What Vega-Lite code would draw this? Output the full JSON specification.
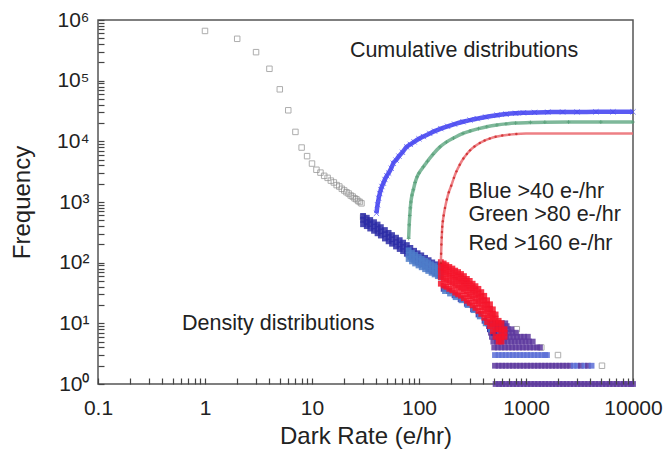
{
  "$schema": "https://vega.github.io/schema/vega-lite/v6.json",
  "width": 535,
  "height": 364,
  "autosize": "none",
  "padding": {"left": 98, "top": 20, "right": 37, "bottom": 74},
  "background": "white",
  "config": {
    "view": {"stroke": "#555", "strokeWidth": 1.5},
    "axis": {
      "grid": false,
      "labelFont": "Liberation Sans",
      "labelFontSize": 21,
      "labelColor": "#222",
      "labelOverlap": false,
      "labelFlush": false,
      "titleFont": "Liberation Sans",
      "titleFontSize": 24,
      "titleFontWeight": "normal",
      "titleColor": "#222"
    }
  },
  "resolve": {"scale": {"color": "independent", "strokeWidth": "independent", "opacity": "independent"}},
  "datasets": {
    "gray": [
      {"x": 1, "y": 660000}, {"x": 2, "y": 490000}, {"x": 3, "y": 295000}, {"x": 4, "y": 157000},
      {"x": 5, "y": 72000}, {"x": 6, "y": 32500}, {"x": 7, "y": 14300}, {"x": 8, "y": 7900},
      {"x": 9, "y": 5700}, {"x": 10, "y": 4300}, {"x": 11, "y": 3400}, {"x": 12, "y": 3050},
      {"x": 13, "y": 2700}, {"x": 14, "y": 2500}, {"x": 15, "y": 2250}, {"x": 16, "y": 2100},
      {"x": 17, "y": 1900}, {"x": 18, "y": 1800}, {"x": 19, "y": 1650}, {"x": 20, "y": 1550},
      {"x": 21, "y": 1450}, {"x": 22, "y": 1380}, {"x": 23, "y": 1280}, {"x": 24, "y": 1230},
      {"x": 25, "y": 1150}, {"x": 26, "y": 1110}, {"x": 27, "y": 1040}, {"x": 28, "y": 1000},
      {"x": 29, "y": 950}, {"x": 30, "y": 560}, {"x": 31, "y": 530}, {"x": 32, "y": 500},
      {"x": 33, "y": 470}, {"x": 34, "y": 450},
      {"x": 820, "y": 8}, {"x": 1390, "y": 4}, {"x": 1990, "y": 3}, {"x": 5130, "y": 2}
    ],
    "dens": [
      {"x": 440, "y": 10, "s": "dP"}, {"x": 475, "y": 10, "s": "dP"}, {"x": 510, "y": 10, "s": "dP"}, {"x": 550, "y": 10, "s": "dP"}, {"x": 595, "y": 10, "s": "dP"}, {"x": 640, "y": 10, "s": "dP"},
      {"x": 450, "y": 9, "s": "dP"}, {"x": 485, "y": 9, "s": "dP"}, {"x": 525, "y": 9, "s": "dP"}, {"x": 565, "y": 9, "s": "dP"}, {"x": 610, "y": 9, "s": "dP"}, {"x": 660, "y": 9, "s": "dP"},
      {"x": 460, "y": 8, "s": "dP"}, {"x": 497, "y": 8, "s": "dP"}, {"x": 537, "y": 8, "s": "dP"}, {"x": 580, "y": 8, "s": "dP"}, {"x": 626, "y": 8, "s": "dP"}, {"x": 676, "y": 8, "s": "dP"}, {"x": 730, "y": 8, "s": "dP"},
      {"x": 470, "y": 7, "s": "dP"}, {"x": 508, "y": 7, "s": "dP"}, {"x": 548, "y": 7, "s": "dP"}, {"x": 592, "y": 7, "s": "dP"}, {"x": 640, "y": 7, "s": "dP"}, {"x": 690, "y": 7, "s": "dP"}, {"x": 745, "y": 7, "s": "dP"}, {"x": 805, "y": 7, "s": "dP"},
      {"x": 480, "y": 6, "s": "dP"}, {"x": 518, "y": 6, "s": "dP"}, {"x": 560, "y": 6, "s": "dP"}, {"x": 605, "y": 6, "s": "dP"}, {"x": 653, "y": 6, "s": "dP"}, {"x": 705, "y": 6, "s": "dP"}, {"x": 762, "y": 6, "s": "dP"}, {"x": 823, "y": 6, "s": "dP"}, {"x": 889, "y": 6, "s": "dP"}, {"x": 960, "y": 6, "s": "dP"}, {"x": 1040, "y": 6, "s": "dP"},
      {"x": 495, "y": 5, "s": "dP"}, {"x": 535, "y": 5, "s": "dP"}, {"x": 578, "y": 5, "s": "dP"}, {"x": 624, "y": 5, "s": "dP"}, {"x": 674, "y": 5, "s": "dP"}, {"x": 728, "y": 5, "s": "dP"}, {"x": 786, "y": 5, "s": "dP"}, {"x": 849, "y": 5, "s": "dP"}, {"x": 917, "y": 5, "s": "dP"}, {"x": 990, "y": 5, "s": "dP"}, {"x": 1070, "y": 5, "s": "dP"}, {"x": 1155, "y": 5, "s": "dP"},
      {"x": 505, "y": 4, "s": "dP"}, {"x": 545, "y": 4, "s": "dP"}, {"x": 589, "y": 4, "s": "dP"}, {"x": 636, "y": 4, "s": "dP"}, {"x": 687, "y": 4, "s": "dP"}, {"x": 742, "y": 4, "s": "dP"}, {"x": 801, "y": 4, "s": "dP"}, {"x": 865, "y": 4, "s": "dP"}, {"x": 934, "y": 4, "s": "dP"}, {"x": 1009, "y": 4, "s": "dP"}, {"x": 1090, "y": 4, "s": "dP"}, {"x": 1177, "y": 4, "s": "dP"}, {"x": 1271, "y": 4, "s": "dP"}, {"x": 1350, "y": 4, "s": "dP"},
      {"x": 513, "y": 3, "s": "dL"}, {"x": 554, "y": 3, "s": "dL"}, {"x": 598, "y": 3, "s": "dL"}, {"x": 646, "y": 3, "s": "dL"}, {"x": 698, "y": 3, "s": "dL"}, {"x": 754, "y": 3, "s": "dL"}, {"x": 814, "y": 3, "s": "dL"}, {"x": 879, "y": 3, "s": "dL"}, {"x": 949, "y": 3, "s": "dL"}, {"x": 1025, "y": 3, "s": "dL"}, {"x": 1107, "y": 3, "s": "dL"}, {"x": 1196, "y": 3, "s": "dL"}, {"x": 1292, "y": 3, "s": "dL"}, {"x": 1395, "y": 3, "s": "dL"}, {"x": 1507, "y": 3, "s": "dL"}, {"x": 1570, "y": 3, "s": "dL"},
      {"x": 513, "y": 2, "s": "dP"}, {"x": 554, "y": 2, "s": "dP"}, {"x": 598, "y": 2, "s": "dP"}, {"x": 646, "y": 2, "s": "dP"}, {"x": 698, "y": 2, "s": "dP"}, {"x": 754, "y": 2, "s": "dP"}, {"x": 814, "y": 2, "s": "dP"}, {"x": 879, "y": 2, "s": "dP"}, {"x": 949, "y": 2, "s": "dP"}, {"x": 1025, "y": 2, "s": "dP"}, {"x": 1107, "y": 2, "s": "dP"}, {"x": 1196, "y": 2, "s": "dP"}, {"x": 1292, "y": 2, "s": "dP"}, {"x": 1395, "y": 2, "s": "dP"}, {"x": 1507, "y": 2, "s": "dP"}, {"x": 1627, "y": 2, "s": "dP"}, {"x": 1757, "y": 2, "s": "dP"}, {"x": 1898, "y": 2, "s": "dP"}, {"x": 2050, "y": 2, "s": "dP"}, {"x": 2214, "y": 2, "s": "dP"}, {"x": 2391, "y": 2, "s": "dP"}, {"x": 2582, "y": 2, "s": "dP"}, {"x": 2789, "y": 2, "s": "dL"}, {"x": 3012, "y": 2, "s": "dL"}, {"x": 3253, "y": 2, "s": "dP"}, {"x": 3513, "y": 2, "s": "dL"}, {"x": 3794, "y": 2, "s": "dP"}, {"x": 4100, "y": 2, "s": "dL"},
      {"x": 520, "y": 1, "s": "dP"}, {"x": 560, "y": 1, "s": "dP"}, {"x": 600, "y": 1, "s": "dP"}, {"x": 648, "y": 1, "s": "dP"}, {"x": 700, "y": 1, "s": "dP"}, {"x": 756, "y": 1, "s": "dP"}, {"x": 816, "y": 1, "s": "dP"}, {"x": 882, "y": 1, "s": "dP"}, {"x": 952, "y": 1, "s": "dP"}, {"x": 1028, "y": 1, "s": "dP"}, {"x": 1111, "y": 1, "s": "dP"}, {"x": 1200, "y": 1, "s": "dP"}, {"x": 1296, "y": 1, "s": "dP"}, {"x": 1399, "y": 1, "s": "dP"}, {"x": 1511, "y": 1, "s": "dP"}, {"x": 1632, "y": 1, "s": "dP"}, {"x": 1763, "y": 1, "s": "dP"}, {"x": 1904, "y": 1, "s": "dP"}, {"x": 2056, "y": 1, "s": "dP"}, {"x": 2220, "y": 1, "s": "dP"}, {"x": 2398, "y": 1, "s": "dP"}, {"x": 2590, "y": 1, "s": "dP"}, {"x": 2797, "y": 1, "s": "dP"}, {"x": 3021, "y": 1, "s": "dP"}, {"x": 3263, "y": 1, "s": "dP"}, {"x": 3524, "y": 1, "s": "dP"}, {"x": 3805, "y": 1, "s": "dP"}, {"x": 4110, "y": 1, "s": "dP"}, {"x": 4439, "y": 1, "s": "dP"}, {"x": 4794, "y": 1, "s": "dP"}, {"x": 5177, "y": 1, "s": "dP"}, {"x": 5591, "y": 1, "s": "dP"}, {"x": 6039, "y": 1, "s": "dP"}, {"x": 6522, "y": 1, "s": "dP"}, {"x": 7044, "y": 1, "s": "dP"}, {"x": 7607, "y": 1, "s": "dP"}, {"x": 8216, "y": 1, "s": "dP"}, {"x": 8873, "y": 1, "s": "dP"}, {"x": 9583, "y": 1, "s": "dP"}, {"x": 10000, "y": 1, "s": "dP"},
      {"x": 30, "y": 430, "s": "dB"}, {"x": 30, "y": 510, "s": "dB"}, {"x": 30, "y": 590, "s": "dB"},
      {"x": 32.5, "y": 400, "s": "dB"}, {"x": 32.5, "y": 470, "s": "dB"}, {"x": 32.5, "y": 550, "s": "dB"},
      {"x": 35, "y": 365, "s": "dB"}, {"x": 35, "y": 435, "s": "dB"}, {"x": 35, "y": 505, "s": "dB"},
      {"x": 38, "y": 335, "s": "dB"}, {"x": 38, "y": 395, "s": "dB"}, {"x": 38, "y": 465, "s": "dB"},
      {"x": 41, "y": 305, "s": "dB"}, {"x": 41, "y": 362, "s": "dB"}, {"x": 41, "y": 425, "s": "dB"},
      {"x": 44, "y": 280, "s": "dB"}, {"x": 44, "y": 330, "s": "dB"}, {"x": 44, "y": 385, "s": "dB"},
      {"x": 48, "y": 250, "s": "dB"}, {"x": 48, "y": 295, "s": "dB"}, {"x": 48, "y": 345, "s": "dB"},
      {"x": 52, "y": 225, "s": "dB"}, {"x": 52, "y": 265, "s": "dB"}, {"x": 52, "y": 310, "s": "dB"},
      {"x": 56, "y": 205, "s": "dB"}, {"x": 56, "y": 243, "s": "dB"}, {"x": 56, "y": 285, "s": "dB"},
      {"x": 61, "y": 185, "s": "dB"}, {"x": 61, "y": 219, "s": "dB"}, {"x": 61, "y": 258, "s": "dB"},
      {"x": 66, "y": 168, "s": "dB"}, {"x": 66, "y": 200, "s": "dB"}, {"x": 66, "y": 235, "s": "dB"},
      {"x": 71, "y": 155, "s": "dB"}, {"x": 71, "y": 183, "s": "dB"}, {"x": 71, "y": 214, "s": "dB"},
      {"x": 77, "y": 140, "s": "dB"}, {"x": 77, "y": 166, "s": "dB"}, {"x": 77, "y": 195, "s": "dB"},
      {"x": 83, "y": 125, "s": "dB"}, {"x": 83, "y": 148, "s": "dB"}, {"x": 83, "y": 175, "s": "dB"},
      {"x": 90, "y": 112, "s": "dB"}, {"x": 90, "y": 133, "s": "dB"}, {"x": 90, "y": 157, "s": "dB"},
      {"x": 97, "y": 103, "s": "dB"}, {"x": 97, "y": 122, "s": "dB"}, {"x": 97, "y": 143, "s": "dB"},
      {"x": 105, "y": 94, "s": "dB"}, {"x": 105, "y": 112, "s": "dB"}, {"x": 105, "y": 132, "s": "dB"},
      {"x": 114, "y": 86, "s": "dB"}, {"x": 114, "y": 102, "s": "dB"}, {"x": 114, "y": 120, "s": "dB"},
      {"x": 123, "y": 78, "s": "dB"}, {"x": 123, "y": 93, "s": "dB"}, {"x": 123, "y": 110, "s": "dB"},
      {"x": 133, "y": 72, "s": "dB"}, {"x": 133, "y": 86, "s": "dB"}, {"x": 133, "y": 101, "s": "dB"},
      {"x": 144, "y": 67, "s": "dB"}, {"x": 144, "y": 80, "s": "dB"}, {"x": 144, "y": 94, "s": "dB"},
      {"x": 156, "y": 62, "s": "dB"}, {"x": 156, "y": 74, "s": "dB"}, {"x": 156, "y": 87, "s": "dB"},
      {"x": 170, "y": 37, "s": "dB"}, {"x": 190, "y": 34, "s": "dB"}, {"x": 215, "y": 29, "s": "dB"}, {"x": 245, "y": 25, "s": "dB"}, {"x": 280, "y": 21, "s": "dB"}, {"x": 320, "y": 17, "s": "dB"}, {"x": 360, "y": 14, "s": "dB"}, {"x": 410, "y": 11, "s": "dB"}, {"x": 460, "y": 8, "s": "dB"}, {"x": 500, "y": 7, "s": "dB"},
      {"x": 80, "y": 115, "s": "dG"}, {"x": 80, "y": 135, "s": "dG"}, {"x": 80, "y": 160, "s": "dG"},
      {"x": 86, "y": 105, "s": "dG"}, {"x": 86, "y": 124, "s": "dG"}, {"x": 86, "y": 146, "s": "dG"},
      {"x": 92, "y": 97, "s": "dG"}, {"x": 92, "y": 115, "s": "dG"}, {"x": 92, "y": 135, "s": "dG"},
      {"x": 99, "y": 90, "s": "dG"}, {"x": 99, "y": 106, "s": "dG"}, {"x": 99, "y": 125, "s": "dG"},
      {"x": 106, "y": 84, "s": "dG"}, {"x": 106, "y": 99, "s": "dG"}, {"x": 106, "y": 116, "s": "dG"},
      {"x": 114, "y": 78, "s": "dG"}, {"x": 114, "y": 92, "s": "dG"}, {"x": 114, "y": 108, "s": "dG"},
      {"x": 122, "y": 73, "s": "dG"}, {"x": 122, "y": 86, "s": "dG"}, {"x": 122, "y": 101, "s": "dG"},
      {"x": 131, "y": 68, "s": "dG"}, {"x": 131, "y": 80, "s": "dG"}, {"x": 131, "y": 94, "s": "dG"},
      {"x": 140, "y": 64, "s": "dG"}, {"x": 140, "y": 75, "s": "dG"}, {"x": 140, "y": 88, "s": "dG"},
      {"x": 150, "y": 60, "s": "dG"}, {"x": 150, "y": 71, "s": "dG"}, {"x": 150, "y": 83, "s": "dG"},
      {"x": 160, "y": 57, "s": "dG"}, {"x": 160, "y": 67, "s": "dG"}, {"x": 160, "y": 79, "s": "dG"},
      {"x": 175, "y": 34, "s": "dG"}, {"x": 195, "y": 31, "s": "dG"}, {"x": 220, "y": 27, "s": "dG"}, {"x": 250, "y": 24, "s": "dG"}, {"x": 285, "y": 20, "s": "dG"}, {"x": 325, "y": 16.5, "s": "dG"}, {"x": 370, "y": 13, "s": "dG"}, {"x": 420, "y": 10, "s": "dG"}, {"x": 470, "y": 8, "s": "dG"},
      {"x": 160, "y": 45, "s": "dR"}, {"x": 160, "y": 58, "s": "dR"}, {"x": 160, "y": 72, "s": "dR"}, {"x": 160, "y": 86, "s": "dR"}, {"x": 160, "y": 102, "s": "dR"},
      {"x": 170, "y": 42, "s": "dR"}, {"x": 170, "y": 54, "s": "dR"}, {"x": 170, "y": 68, "s": "dR"}, {"x": 170, "y": 82, "s": "dR"}, {"x": 170, "y": 97, "s": "dR"},
      {"x": 180, "y": 40, "s": "dR"}, {"x": 180, "y": 51, "s": "dR"}, {"x": 180, "y": 64, "s": "dR"}, {"x": 180, "y": 77, "s": "dR"}, {"x": 180, "y": 91, "s": "dR"},
      {"x": 192, "y": 37, "s": "dR"}, {"x": 192, "y": 48, "s": "dR"}, {"x": 192, "y": 60, "s": "dR"}, {"x": 192, "y": 72, "s": "dR"}, {"x": 192, "y": 85, "s": "dR"},
      {"x": 205, "y": 35, "s": "dR"}, {"x": 205, "y": 45, "s": "dR"}, {"x": 205, "y": 56, "s": "dR"}, {"x": 205, "y": 67, "s": "dR"}, {"x": 205, "y": 80, "s": "dR"},
      {"x": 218, "y": 32, "s": "dR"}, {"x": 218, "y": 42, "s": "dR"}, {"x": 218, "y": 52, "s": "dR"}, {"x": 218, "y": 62, "s": "dR"}, {"x": 218, "y": 74, "s": "dR"},
      {"x": 232, "y": 30, "s": "dR"}, {"x": 232, "y": 39, "s": "dR"}, {"x": 232, "y": 49, "s": "dR"}, {"x": 232, "y": 59, "s": "dR"}, {"x": 232, "y": 70, "s": "dR"},
      {"x": 247, "y": 28.5, "s": "dR"}, {"x": 247, "y": 37, "s": "dR"}, {"x": 247, "y": 46, "s": "dR"}, {"x": 247, "y": 55, "s": "dR"}, {"x": 247, "y": 65, "s": "dR"},
      {"x": 263, "y": 26, "s": "dR"}, {"x": 263, "y": 34, "s": "dR"}, {"x": 263, "y": 42, "s": "dR"}, {"x": 263, "y": 50, "s": "dR"}, {"x": 263, "y": 60, "s": "dR"},
      {"x": 280, "y": 23.5, "s": "dR"}, {"x": 280, "y": 30, "s": "dR"}, {"x": 280, "y": 38, "s": "dR"}, {"x": 280, "y": 46, "s": "dR"}, {"x": 280, "y": 54, "s": "dR"},
      {"x": 298, "y": 21.7, "s": "dR"}, {"x": 298, "y": 28, "s": "dR"}, {"x": 298, "y": 35, "s": "dR"}, {"x": 298, "y": 42, "s": "dR"}, {"x": 298, "y": 50, "s": "dR"},
      {"x": 317, "y": 19.8, "s": "dR"}, {"x": 317, "y": 25.6, "s": "dR"}, {"x": 317, "y": 32, "s": "dR"}, {"x": 317, "y": 38, "s": "dR"}, {"x": 317, "y": 45, "s": "dR"},
      {"x": 337, "y": 18, "s": "dR"}, {"x": 337, "y": 23, "s": "dR"}, {"x": 337, "y": 29, "s": "dR"}, {"x": 337, "y": 35, "s": "dR"}, {"x": 337, "y": 41, "s": "dR"},
      {"x": 359, "y": 16, "s": "dR"}, {"x": 359, "y": 21, "s": "dR"}, {"x": 359, "y": 26, "s": "dR"}, {"x": 359, "y": 31, "s": "dR"}, {"x": 359, "y": 37, "s": "dR"},
      {"x": 382, "y": 14.3, "s": "dR"}, {"x": 382, "y": 18.4, "s": "dR"}, {"x": 382, "y": 23, "s": "dR"}, {"x": 382, "y": 27.6, "s": "dR"}, {"x": 382, "y": 32.7, "s": "dR"},
      {"x": 407, "y": 12.4, "s": "dR"}, {"x": 407, "y": 16, "s": "dR"}, {"x": 407, "y": 20, "s": "dR"}, {"x": 407, "y": 24, "s": "dR"}, {"x": 407, "y": 28.4, "s": "dR"},
      {"x": 433, "y": 10.5, "s": "dR"}, {"x": 433, "y": 13.6, "s": "dR"}, {"x": 433, "y": 17, "s": "dR"}, {"x": 433, "y": 20.4, "s": "dR"}, {"x": 433, "y": 24, "s": "dR"},
      {"x": 461, "y": 9, "s": "dR"}, {"x": 461, "y": 11.6, "s": "dR"}, {"x": 461, "y": 14.5, "s": "dR"}, {"x": 461, "y": 17.4, "s": "dR"}, {"x": 461, "y": 20.6, "s": "dR"},
      {"x": 490, "y": 7.4, "s": "dR"}, {"x": 490, "y": 9.6, "s": "dR"}, {"x": 490, "y": 12, "s": "dR"}, {"x": 490, "y": 14.4, "s": "dR"}, {"x": 490, "y": 17, "s": "dR"},
      {"x": 520, "y": 6, "s": "dR"}, {"x": 520, "y": 8, "s": "dR"}, {"x": 520, "y": 10, "s": "dR"}, {"x": 520, "y": 12, "s": "dR"}, {"x": 520, "y": 14, "s": "dR"},
      {"x": 555, "y": 5, "s": "dR"}, {"x": 555, "y": 6, "s": "dR"}, {"x": 555, "y": 8, "s": "dR"}, {"x": 555, "y": 10, "s": "dR"}, {"x": 555, "y": 11, "s": "dR"},
      {"x": 590, "y": 5, "s": "dR"}, {"x": 590, "y": 6, "s": "dR"}, {"x": 590, "y": 7, "s": "dR"}, {"x": 590, "y": 8, "s": "dR"}, {"x": 590, "y": 10, "s": "dR"},
      {"x": 630, "y": 6, "s": "dR"}, {"x": 630, "y": 7, "s": "dR"}, {"x": 630, "y": 8, "s": "dR"}
    ],
    "cum": [
      {"x": 40, "y": 650, "s": "cB"}, {"x": 41, "y": 900, "s": "cB"}, {"x": 42, "y": 1150, "s": "cB"}, {"x": 43, "y": 1380, "s": "cB"}, {"x": 44, "y": 1600, "s": "cB"}, {"x": 45, "y": 1800, "s": "cB"}, {"x": 46.5, "y": 2040, "s": "cB"}, {"x": 48, "y": 2350, "s": "cB"}, {"x": 50, "y": 2700, "s": "cB"}, {"x": 52, "y": 3000, "s": "cB"}, {"x": 55, "y": 3600, "s": "cB"}, {"x": 57.5, "y": 4350, "s": "cB"}, {"x": 61, "y": 4900, "s": "cB"}, {"x": 65, "y": 5700, "s": "cB"}, {"x": 70, "y": 6600, "s": "cB"}, {"x": 76.7, "y": 8100, "s": "cB"}, {"x": 83, "y": 8900, "s": "cB"}, {"x": 90, "y": 9800, "s": "cB"}, {"x": 100, "y": 11000, "s": "cB"}, {"x": 110, "y": 12000, "s": "cB"}, {"x": 126, "y": 13500, "s": "cB"}, {"x": 140, "y": 14700, "s": "cB"}, {"x": 160, "y": 16200, "s": "cB"}, {"x": 185, "y": 17700, "s": "cB"}, {"x": 215, "y": 19200, "s": "cB"}, {"x": 258, "y": 21000, "s": "cB"}, {"x": 300, "y": 22400, "s": "cB"}, {"x": 350, "y": 23700, "s": "cB"}, {"x": 420, "y": 25200, "s": "cB"}, {"x": 535, "y": 27000, "s": "cB"}, {"x": 650, "y": 28200, "s": "cB"}, {"x": 800, "y": 29000, "s": "cB"}, {"x": 944, "y": 29500, "s": "cB"}, {"x": 1200, "y": 30000, "s": "cB"}, {"x": 1600, "y": 30300, "s": "cB"}, {"x": 2200, "y": 30500, "s": "cB"}, {"x": 3000, "y": 30500, "s": "cB"}, {"x": 4500, "y": 30600, "s": "cB"}, {"x": 6500, "y": 30600, "s": "cB"}, {"x": 10000, "y": 30600, "s": "cB"},
      {"x": 80, "y": 250, "s": "cG"}, {"x": 81, "y": 420, "s": "cG"}, {"x": 82, "y": 600, "s": "cG"}, {"x": 83, "y": 800, "s": "cG"}, {"x": 84, "y": 1000, "s": "cG"}, {"x": 86, "y": 1300, "s": "cG"}, {"x": 88.5, "y": 1590, "s": "cG"}, {"x": 92, "y": 2100, "s": "cG"}, {"x": 96, "y": 2600, "s": "cG"}, {"x": 100, "y": 3000, "s": "cG"}, {"x": 110, "y": 3800, "s": "cG"}, {"x": 120, "y": 4700, "s": "cG"}, {"x": 135, "y": 6100, "s": "cG"}, {"x": 157, "y": 8100, "s": "cG"}, {"x": 180, "y": 9700, "s": "cG"}, {"x": 210, "y": 11300, "s": "cG"}, {"x": 258, "y": 13500, "s": "cG"}, {"x": 300, "y": 14800, "s": "cG"}, {"x": 360, "y": 16200, "s": "cG"}, {"x": 430, "y": 17400, "s": "cG"}, {"x": 535, "y": 18600, "s": "cG"}, {"x": 650, "y": 19400, "s": "cG"}, {"x": 800, "y": 20000, "s": "cG"}, {"x": 1100, "y": 20500, "s": "cG"}, {"x": 1500, "y": 20700, "s": "cG"}, {"x": 2500, "y": 20800, "s": "cG"}, {"x": 5000, "y": 20800, "s": "cG"}, {"x": 10000, "y": 20800, "s": "cG"},
      {"x": 160, "y": 100, "s": "cR"}, {"x": 161, "y": 140, "s": "cR"}, {"x": 162, "y": 200, "s": "cR"}, {"x": 163, "y": 260, "s": "cR"}, {"x": 164, "y": 320, "s": "cR"}, {"x": 165, "y": 390, "s": "cR"}, {"x": 167, "y": 480, "s": "cR"}, {"x": 170, "y": 600, "s": "cR"}, {"x": 175, "y": 800, "s": "cR"}, {"x": 182, "y": 1100, "s": "cR"}, {"x": 190, "y": 1450, "s": "cR"}, {"x": 200, "y": 1850, "s": "cR"}, {"x": 212, "y": 2500, "s": "cR"}, {"x": 224, "y": 3200, "s": "cR"}, {"x": 240, "y": 4100, "s": "cR"}, {"x": 260, "y": 5200, "s": "cR"}, {"x": 280, "y": 6200, "s": "cR"}, {"x": 300, "y": 7100, "s": "cR"}, {"x": 330, "y": 8200, "s": "cR"}, {"x": 370, "y": 9400, "s": "cR"}, {"x": 410, "y": 10300, "s": "cR"}, {"x": 458, "y": 11100, "s": "cR"}, {"x": 520, "y": 11900, "s": "cR"}, {"x": 600, "y": 12500, "s": "cR"}, {"x": 700, "y": 12900, "s": "cR"}, {"x": 813, "y": 13200, "s": "cR"}, {"x": 1000, "y": 13400, "s": "cR"}, {"x": 1500, "y": 13500, "s": "cR"}, {"x": 3000, "y": 13500, "s": "cR"}, {"x": 10000, "y": 13500, "s": "cR"}
    ],
    "notes": [
      {"x": 22.6, "y": 308000, "t": "Cumulative distributions"},
      {"x": 290, "y": 1480, "t": "Blue >40 e-/hr"},
      {"x": 290, "y": 612, "t": "Green >80 e-/hr"},
      {"x": 290, "y": 204, "t": "Red >160 e-/hr"},
      {"x": 0.61, "y": 9.8, "t": "Density distributions"}
    ]
  },
  "layer": [
    {
      "data": {"name": "gray"},
      "mark": {"type": "point", "shape": "square", "filled": false, "size": 30, "strokeWidth": 1, "color": "#8c8c8c"},
      "encoding": {
        "x": {
          "field": "x", "type": "quantitative",
          "scale": {"type": "log", "domain": [0.1, 10000], "nice": false},
          "axis": {
            "title": "Dark Rate (e/hr)",
            "values": [0.1,0.2,0.3,0.4,0.5,0.6,0.7,0.8,0.9,1,2,3,4,5,6,7,8,9,10,20,30,40,50,60,70,80,90,100,200,300,400,500,600,700,800,900,1000,2000,3000,4000,5000,6000,7000,8000,9000,10000],
            "labelExpr": "abs(log(datum.value)/LN10 - round(log(datum.value)/LN10)) < 0.001 ? (datum.value < 1 ? '0.1' : format(datum.value, 'd')) : ''",
            "domain": false,
            "ticks": true,
            "tickSize": 6,
            "tickWidth": 1.2,
            "tickColor": "#444",
            "tickOpacity": 1,
            "offset": -6,
            "zindex": 1,
            "labelPadding": 13,
            "titlePadding": 6
          }
        },
        "y": {
          "field": "y", "type": "quantitative",
          "scale": {"type": "log", "domain": [1, 1000000], "nice": false},
          "axis": {
            "title": "Frequency",
            "values": [1,2,3,4,5,6,7,8,9,10,20,30,40,50,60,70,80,90,100,200,300,400,500,600,700,800,900,1000,2000,3000,4000,5000,6000,7000,8000,9000,10000,20000,30000,40000,50000,60000,70000,80000,90000,100000,200000,300000,400000,500000,600000,700000,800000,900000,1000000],
            "labelExpr": "abs(log(datum.value)/LN10 - round(log(datum.value)/LN10)) < 0.001 ? '10' + ['⁰','¹','²','³','⁴','⁵','⁶'][round(log(datum.value)/LN10)] : ''",
            "domain": false,
            "ticks": true,
            "tickSize": 6,
            "tickWidth": 1.2,
            "tickColor": "#444",
            "tickOpacity": 1,
            "offset": -6,
            "zindex": 1,
            "labelPadding": 9,
            "titlePadding": 22
          }
        }
      }
    },
    {
      "data": {"name": "dens"},
      "mark": {"type": "point", "shape": "square", "filled": true, "size": 34, "opacity": 0.85},
      "encoding": {
        "x": {"field": "x", "type": "quantitative"},
        "y": {"field": "y", "type": "quantitative"},
        "color": {
          "field": "s", "type": "nominal",
          "scale": {"domain": ["dP", "dL", "dB", "dG", "dR"], "range": ["#5e3a9f", "#5c6ed6", "#2b2ba6", "#4d7cc9", "#f5142a"]},
          "legend": null
        }
      }
    },
    {
      "data": {"name": "cum"},
      "mark": {"type": "line", "interpolate": "monotone"},
      "encoding": {
        "x": {"field": "x", "type": "quantitative"},
        "y": {"field": "y", "type": "quantitative"},
        "stroke": {
          "field": "s", "type": "nominal",
          "scale": {"domain": ["cB", "cG", "cR"], "range": ["#4848f2", "#6cae8c", "#ea6a70"]},
          "legend": null
        },
        "strokeWidth": {
          "field": "s", "type": "nominal",
          "scale": {"domain": ["cB", "cG", "cR"], "range": [4.5, 2.5, 2.5]},
          "legend": null
        },
        "opacity": {
          "field": "s", "type": "nominal",
          "scale": {"domain": ["cB", "cG", "cR"], "range": [0.9, 0.85, 0.8]},
          "legend": null
        }
      }
    },
    {
      "data": {"name": "cum"},
      "transform": [{"filter": "datum.s == 'cB'"}],
      "mark": {"type": "point", "shape": "M-1,-1L1,1M-1,1L1,-1", "filled": false, "size": 28, "strokeWidth": 1, "color": "#4a4af0"},
      "encoding": {
        "x": {"field": "x", "type": "quantitative"},
        "y": {"field": "y", "type": "quantitative"}
      }
    },
    {
      "data": {"name": "cum"},
      "transform": [{"filter": "datum.s == 'cG'"}],
      "mark": {"type": "point", "shape": "M-1,0L1,0M0,-1L0,1", "filled": false, "size": 14, "strokeWidth": 1, "color": "#4e9a70"},
      "encoding": {
        "x": {"field": "x", "type": "quantitative"},
        "y": {"field": "y", "type": "quantitative"}
      }
    },
    {
      "data": {"name": "cum"},
      "transform": [{"filter": "datum.s == 'cR' && datum.x < 900"}],
      "mark": {"type": "point", "shape": "circle", "filled": true, "size": 6, "color": "#c81818"},
      "encoding": {
        "x": {"field": "x", "type": "quantitative"},
        "y": {"field": "y", "type": "quantitative"}
      }
    },
    {
      "data": {"name": "notes"},
      "mark": {"type": "text", "align": "left", "baseline": "middle", "font": "Liberation Sans", "fontSize": 21.5, "color": "#222"},
      "encoding": {
        "x": {"field": "x", "type": "quantitative"},
        "y": {"field": "y", "type": "quantitative"},
        "text": {"field": "t", "type": "nominal"}
      }
    }
  ]
}
